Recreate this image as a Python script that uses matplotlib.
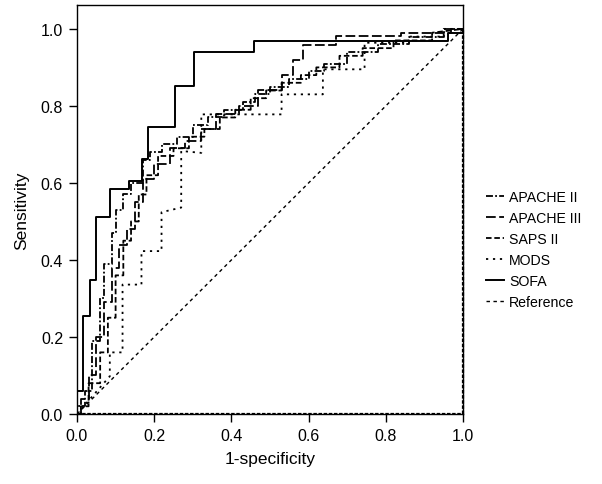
import numpy as np
import matplotlib
matplotlib.use("Agg")
import matplotlib.pyplot as plt

plt.rcParams['font.family'] = ['Liberation Sans', 'DejaVu Sans']
plt.rcParams['lines.scale_dashes'] = False

# ROC points (1-specificity, sensitivity)
apache2_fpr = [0, 0, 0.02, 0.02, 0.04, 0.04, 0.06, 0.06, 0.07, 0.07, 0.09, 0.09, 0.10, 0.10,
               0.12, 0.12, 0.14, 0.14, 0.17, 0.17, 0.19, 0.19, 0.22, 0.22, 0.26, 0.26, 0.30,
               0.30, 0.34, 0.34, 0.38, 0.38, 0.43, 0.43, 0.46, 0.46, 0.50, 0.50, 0.55, 0.55,
               0.60, 0.60, 0.64, 0.64, 0.70, 0.70, 0.78, 0.78, 0.86, 0.86, 0.95, 0.95, 1.0]
apache2_tpr = [0, 0.02, 0.02, 0.06, 0.06, 0.19, 0.19, 0.30, 0.30, 0.39, 0.39, 0.47, 0.47, 0.53,
               0.53, 0.57, 0.57, 0.60, 0.60, 0.66, 0.66, 0.68, 0.68, 0.70, 0.70, 0.72, 0.72,
               0.75, 0.75, 0.77, 0.77, 0.79, 0.79, 0.81, 0.81, 0.83, 0.83, 0.85, 0.85, 0.87,
               0.87, 0.89, 0.89, 0.91, 0.91, 0.94, 0.94, 0.96, 0.96, 0.98, 0.98, 1.0, 1.0]

apache3_fpr = [0, 0.01, 0.01, 0.03, 0.03, 0.05, 0.05, 0.07, 0.07, 0.09, 0.09, 0.11, 0.11, 0.13,
               0.13, 0.15, 0.15, 0.17, 0.17, 0.20, 0.20, 0.24, 0.24, 0.28, 0.28, 0.32, 0.32,
               0.36, 0.36, 0.42, 0.42, 0.47, 0.47, 0.53, 0.53, 0.56, 0.56, 0.585, 0.585, 0.67,
               0.67, 0.84, 0.84, 0.97, 0.97, 1.0]
apache3_tpr = [0, 0, 0.04, 0.04, 0.10, 0.10, 0.20, 0.20, 0.29, 0.29, 0.38, 0.38, 0.44, 0.44,
               0.48, 0.48, 0.55, 0.55, 0.61, 0.61, 0.65, 0.65, 0.69, 0.69, 0.71, 0.71, 0.74,
               0.74, 0.78, 0.78, 0.80, 0.80, 0.84, 0.84, 0.88, 0.88, 0.92, 0.92, 0.958, 0.958,
               0.981, 0.981, 0.99, 0.99, 1.0, 1.0]

saps2_fpr = [0, 0.01, 0.01, 0.03, 0.03, 0.06, 0.06, 0.08, 0.08, 0.10, 0.10, 0.12, 0.12, 0.14,
             0.14, 0.16, 0.16, 0.18, 0.18, 0.21, 0.21, 0.25, 0.25, 0.29, 0.29, 0.33, 0.33,
             0.37, 0.37, 0.41, 0.41, 0.45, 0.45, 0.49, 0.49, 0.53, 0.53, 0.58, 0.58, 0.62,
             0.62, 0.68, 0.68, 0.74, 0.74, 0.82, 0.82, 0.92, 0.92, 1.0]
saps2_tpr = [0, 0, 0.02, 0.02, 0.08, 0.08, 0.16, 0.16, 0.25, 0.25, 0.36, 0.36, 0.45, 0.45,
             0.50, 0.50, 0.57, 0.57, 0.62, 0.62, 0.67, 0.67, 0.69, 0.69, 0.72, 0.72, 0.74,
             0.74, 0.77, 0.77, 0.79, 0.79, 0.82, 0.82, 0.84, 0.84, 0.86, 0.86, 0.88, 0.88,
             0.90, 0.90, 0.93, 0.93, 0.95, 0.95, 0.97, 0.97, 0.99, 1.0]

mods_fpr = [0, 0.085, 0.085, 0.118, 0.118, 0.167, 0.167, 0.219, 0.219, 0.27, 0.27, 0.322,
            0.322, 0.53, 0.53, 0.637, 0.637, 0.745, 0.745, 0.86, 0.86, 0.95, 0.95, 1.0]
mods_tpr = [0, 0.098, 0.16, 0.16, 0.336, 0.336, 0.423, 0.423, 0.524, 0.536, 0.683, 0.678,
            0.778, 0.778, 0.83, 0.83, 0.895, 0.895, 0.964, 0.964, 0.98, 0.98, 1.0, 1.0]

sofa_fpr = [0, 0, 0.0155, 0.0155, 0.033, 0.033, 0.048, 0.048, 0.085, 0.085, 0.134, 0.134,
            0.168, 0.168, 0.184, 0.184, 0.253, 0.253, 0.304, 0.304, 0.458, 0.458, 0.96,
            0.96, 1.0, 1.0]
sofa_tpr = [0, 0.059, 0.059, 0.254, 0.254, 0.349, 0.349, 0.512, 0.512, 0.585, 0.585, 0.606,
            0.606, 0.661, 0.661, 0.746, 0.746, 0.851, 0.851, 0.94, 0.94, 0.969, 0.969,
            0.99, 0.99, 1.0]

ref_x = [0, 1]
ref_y = [0, 1]

fig = plt.figure(figsize=(6.02, 4.85), dpi=100)
ax = fig.add_axes([77 / 602, 70 / 485, 386 / 602, 409 / 485])

lw = 1.3
ax.plot(apache2_fpr, apache2_tpr, color='black', lw=lw, ls=(0, (5, 1.6, 1.3, 1.6)), label='APACHE II')
ax.plot(apache3_fpr, apache3_tpr, color='black', lw=lw, ls=(0, (7, 2.5)), label='APACHE III')
ax.plot(saps2_fpr, saps2_tpr, color='black', lw=lw, ls=(0, (4, 2)), label='SAPS II')
ax.plot(mods_fpr, mods_tpr, color='black', lw=lw, ls=(0, (1.6, 3.4)), label='MODS')
ax.plot(sofa_fpr, sofa_tpr, color='black', lw=1.4, ls='-', label='SOFA')
ax.plot(ref_x, ref_y, color='black', lw=1.0, ls=(0, (2.5, 2.5)), label='Reference')

# dashed overlay that sits on the bottom and right edges in the original
ax.axhline(0, color='black', lw=1.6, ls=(0, (2.5, 1.2)))
ax.plot([1, 1], [0, 1], color='black', lw=1.6, ls=(0, (2.5, 1.2)), clip_on=False)

ax.set_xlim(0, 1.0)
ax.set_ylim(0, 1.062)
ax.set_xticks(np.arange(0, 1.01, 0.2))
ax.set_yticks(np.arange(0, 1.01, 0.2))
ax.xaxis.set_major_formatter(plt.FormatStrFormatter('%.1f'))
ax.yaxis.set_major_formatter(plt.FormatStrFormatter('%.1f'))
ax.tick_params(direction='out', length=6, width=1, labelsize=11.5, pad=4)
for s in ax.spines.values():
    s.set_linewidth(1.0)

ax.set_xlabel('1-specificity', fontsize=12.5, labelpad=6)
ax.set_ylabel('Sensitivity', fontsize=12.5, labelpad=8)

fig.legend(loc='upper left', bbox_to_anchor=(486 / 602, 1 - 191 / 485), frameon=False,
           fontsize=10.2, handlelength=1.3, handletextpad=0.35, labelspacing=0.5,
           borderpad=0, borderaxespad=0)

fig.savefig('out.png', dpi=100)
